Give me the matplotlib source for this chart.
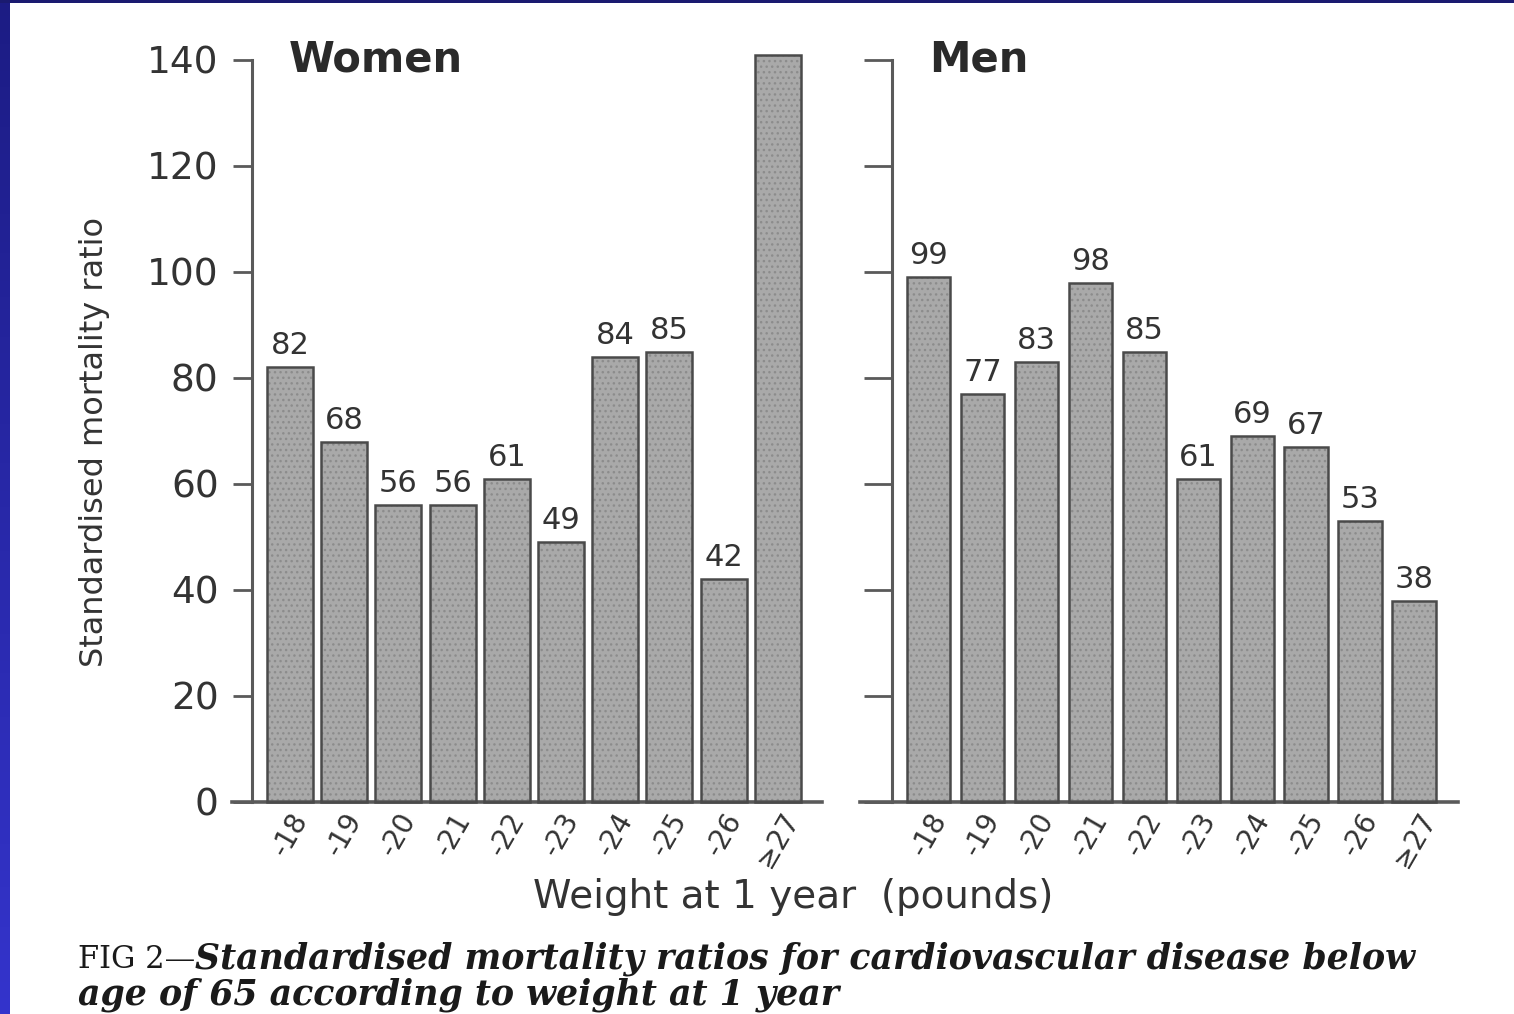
import numpy as np
import matplotlib
matplotlib.use("Agg")
import matplotlib.pyplot as plt
from matplotlib.patches import Rectangle

# data
weights = ["-18", "-19", "-20", "-21", "-22", "-23", "-24", "-25", "-26", "\u226527"]
women = [82, 68, 56, 56, 61, 49, 84, 85, 42, 141]
men = [99, 77, 83, 98, 85, 61, 69, 67, 53, 38]
yticks = [0, 20, 40, 60, 80, 100, 120, 140]

W, H = 1514, 1014
fig = plt.figure(figsize=(W / 100, H / 100), dpi=100)
fig.patch.set_facecolor("white")

# blue slide border (left strip + top strip)
bg = fig.add_axes([0, 0, 1, 1], zorder=-10)
bg.set_xlim(0, W)
bg.set_ylim(H, 0)
bg.axis("off")
grad = np.linspace(0, 1, 256).reshape(-1, 1)
cmap = matplotlib.colors.LinearSegmentedColormap.from_list("blu", ["#1c1c84", "#3434cc"])
bg.imshow(grad, cmap=cmap, extent=(0, 10, H, 0), aspect="auto")
bg.add_patch(Rectangle((0, 0), W, 3, color="#1a1a70", lw=0))

bar_fill = "#a9a9a9"
edge = "#4a4a4a"
axis_col = "#5a5a5a"


def fpos(x0, y0, x1, y1):
    return [x0 / W, 1 - y1 / H, (x1 - x0) / W, (y1 - y0) / H]


def panel(rect, vals, xlim, spine_x, width, ticklen, show_labels, title, title_x):
    ax = fig.add_axes(rect)
    x = np.arange(len(vals))
    # dotted texture, then the outline on top
    ax.bar(x, vals, width=width, color=bar_fill, edgecolor="#8c8c8c", hatch="...",
           linewidth=0, clip_on=False, zorder=2)
    ax.bar(x, vals, width=width, facecolor="none", edgecolor=edge, linewidth=1.8,
           clip_on=False, zorder=3)
    for xi, v in zip(x, vals):
        ax.annotate(str(v), (xi, v), xytext=(0, 5), textcoords="offset points",
                    ha="center", va="bottom", fontsize=22, color="#333333")
    ax.set_xlim(*xlim)
    ax.set_ylim(0, 140)
    ax.spines["top"].set_visible(False)
    ax.spines["right"].set_visible(False)
    ax.spines["left"].set_position(("data", spine_x))
    ax.spines["left"].set_color(axis_col)
    ax.spines["left"].set_linewidth(2.2)
    ax.spines["bottom"].set_color(axis_col)
    ax.spines["bottom"].set_linewidth(2.6)
    ax.set_yticks(yticks)
    ax.tick_params(axis="y", direction="out", length=ticklen, width=2, color=axis_col,
                   labelsize=27, labelcolor="#333333", pad=10, labelleft=show_labels)
    ax.set_xticks(x)
    ax.set_xticklabels(weights, rotation=60, ha="center", fontsize=20, color="#333333")
    ax.tick_params(axis="x", length=0, pad=4)
    ax.text(title_x, 1.0, title, transform=ax.get_xaxis_transform(), ha="left",
            va="center", fontsize=30, fontweight="bold", color="#2a2a2a")
    return ax


panel(fpos(232, 60, 822, 802), women, (-1.07, 9.815), -0.70, 0.85, 14, True, "Women", -0.02)
panel(fpos(860, 60, 1458, 802), men, (-1.27, 9.81), -0.676, 0.81, 20, False, "Men", 0.02)

fig.text(95 / W, 1 - 442 / H, "Standardised mortality ratio", rotation=90,
         ha="center", va="center", fontsize=23, color="#333333")
fig.text(793 / W, 1 - 897 / H, "Weight at 1 year  (pounds)", ha="center", va="center",
         fontsize=28, color="#333333")

# caption
cap_kw = dict(family="DejaVu Serif", color="#1a1a1a", va="baseline")
t0 = fig.text(78 / W, 1 - 968 / H, "FIG 2\u2014", fontsize=22, **cap_kw)
fig.canvas.draw()
bb = t0.get_window_extent()
fig.text(bb.x1 / W, 1 - 968 / H,
         "Standardised mortality ratios for cardiovascular disease below",
         fontsize=25, style="italic", fontweight="bold", **cap_kw)
fig.text(78 / W, 1 - 1004 / H, "age of 65 according to weight at 1 year",
         fontsize=25, style="italic", fontweight="bold", **cap_kw)

fig.savefig("out.png", dpi=100, facecolor="white")
